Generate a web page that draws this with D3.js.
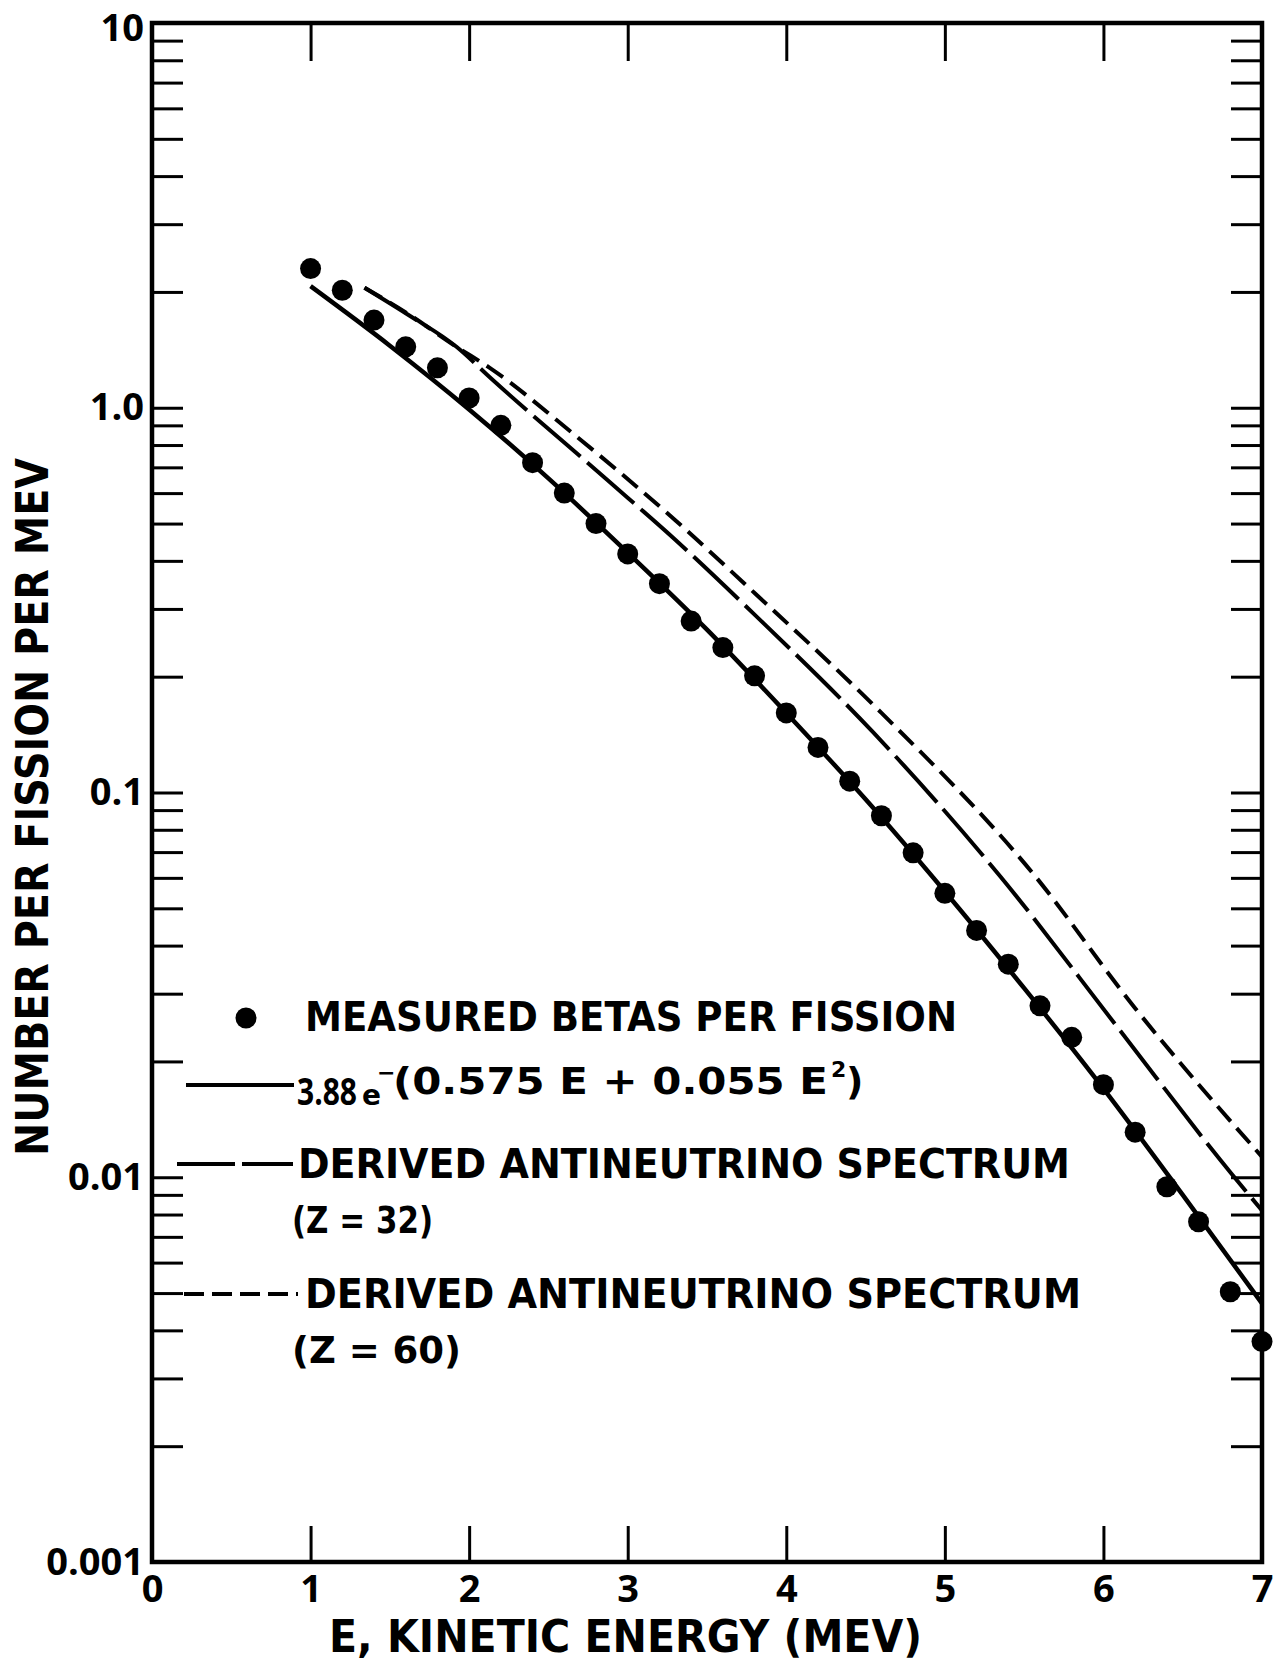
<!DOCTYPE html>
<html>
<head>
<meta charset="utf-8">
<script src="https://cdn.jsdelivr.net/npm/d3@7"></script>
<style>
  body { margin: 0; background: #fff; }
  svg text { font-family: "DejaVu Sans", sans-serif; font-weight: bold; fill: #000; }
  svg .tick text, svg .num { font-family: "Open Sans", "DejaVu Sans", sans-serif; font-weight: 700; }
</style>
</head>
<body>
<svg id="plot"></svg>
<script>
// Measured betas per fission (every 0.2 MeV)
const energy = [1.0, 1.2, 1.4, 1.6, 1.8, 2.0, 2.2, 2.4, 2.6, 2.8, 3.0, 3.2, 3.4, 3.6, 3.8,
                4.0, 4.2, 4.4, 4.6, 4.8, 5.0, 5.2, 5.4, 5.6, 5.8, 6.0, 6.2, 6.4, 6.6, 6.8, 7.0];
const betas = [2.30, 2.02, 1.69, 1.44, 1.27, 1.06, 0.90, 0.72, 0.60, 0.50, 0.417, 0.349, 0.279, 0.238, 0.201,
               0.161, 0.131, 0.107, 0.087, 0.0697, 0.0547, 0.0438, 0.0358, 0.0279, 0.0231, 0.0174, 0.0131,
               0.00945, 0.00766, 0.00504, 0.00374];

// Fitted curve 3.88 e^-(0.575E + 0.055E^2), as drawn
const fitEnergy = [1.0, 1.5, 2.0, 2.5, 3.0, 3.5, 4.0, 4.5, 5.0, 5.5, 6.0, 6.5, 7.0];
const fitValues = [2.07, 1.45, 0.99, 0.655, 0.42, 0.265, 0.161, 0.096, 0.0553, 0.031, 0.017, 0.0090, 0.0047];

// Derived antineutrino spectrum, Z = 32 (long dashes)
const z32Energy = [1.34, 1.6, 1.92, 2.13, 2.87, 3.3, 3.8, 4.55, 5.35, 6.1, 6.8, 7.0];
const z32Values = [2.05, 1.76, 1.44, 1.20, 0.65, 0.454, 0.29, 0.143, 0.0605, 0.0242, 0.0103, 0.0082];

// Derived antineutrino spectrum, Z = 60 (short dashes)
const z60Energy = [1.34, 1.6, 1.92, 2.13, 2.65, 3.3, 3.8, 4.6, 5.55, 6.2, 7.0];
const z60Values = [2.05, 1.77, 1.44, 1.27, 0.86, 0.51, 0.33, 0.161, 0.062, 0.0275, 0.0113];

// Axis ticks
const xTicks = [0, 1, 2, 3, 4, 5, 6, 7];
const yTickValues = [10, 1, 0.1, 0.01, 0.001];
const yTickLabels = ["10", "1.0", "0.1", "0.01", "0.001"];
const decades = [0.001, 0.01, 0.1, 1];

const legendLabels = ["MEASURED BETAS PER FISSION", "DERIVED ANTINEUTRINO SPECTRUM", "(Z = 32)",
                      "DERIVED ANTINEUTRINO SPECTRUM", "(Z = 60)"];

let width = 1110;
let height = 1539;
let margin = { top: 23, bottom: 100, left: 152, right: 21 };

let root = d3.select('#plot')
    .attr('width', 1283)
    .attr('height', 1662);

let svg = root.append('g')
    .attr('transform', `translate(${margin.left}, ${margin.top})`);

let xScale = d3.scaleLinear().domain([0, 7]).range([0, width]);
let yScale = d3.scaleLog().domain([0.001, 10]).range([height, 0]);

// every 1..9 x 10^n tick, plus the top one
let minorTicks = [];
decades.forEach(d => { for (let k = 1; k < 10; k++) minorTicks.push(+(k * d).toPrecision(3)); });
minorTicks.push(10);

function yLabel(d) {
    let i = yTickValues.findIndex(v => Math.abs(v - d) / v < 1e-9);
    return i < 0 ? '' : yTickLabels[i];
}

function styleAxis(g) {
    g.select('.domain').remove();
    g.selectAll('.tick line').attr('stroke', '#000').attr('stroke-width', 3);
    g.selectAll('.tick text').attr('fill', '#000').style('font-size', '38px');
}

// Left axis with labels
svg.append('g')
    .call(d3.axisLeft(yScale).tickValues(minorTicks).tickSize(-31).tickSizeOuter(0)
        .tickPadding(8).tickFormat(yLabel))
    .call(styleAxis)
    .selectAll('.tick text')
    .filter(d => d === 10)
    .attr('dy', '0.45em');

// Right axis, ticks only
svg.append('g')
    .attr('transform', `translate(${width}, 0)`)
    .call(d3.axisRight(yScale).tickValues(minorTicks).tickSize(-31).tickSizeOuter(0).tickFormat(''))
    .call(styleAxis);

// Bottom axis with labels
svg.append('g')
    .attr('transform', `translate(0, ${height})`)
    .call(d3.axisBottom(xScale).tickValues(xTicks).tickSize(-36).tickSizeOuter(0).tickPadding(13)
        .tickFormat(d3.format('d')))
    .call(styleAxis);

// Top axis, ticks only
svg.append('g')
    .call(d3.axisTop(xScale).tickValues(xTicks.slice(1, 7)).tickSize(-38).tickSizeOuter(0).tickFormat(''))
    .call(styleAxis);

// Frame
svg.append('rect')
    .attr('width', width)
    .attr('height', height)
    .attr('fill', 'none')
    .attr('stroke', '#000')
    .attr('stroke-width', 4.5);

// Curves
let line = d3.line()
    .x(d => xScale(d[0]))
    .y(d => yScale(d[1]))
    .curve(d3.curveMonotoneX);

svg.append('path')
    .datum(d3.zip(z60Energy, z60Values))
    .attr('d', line)
    .attr('fill', 'none')
    .attr('stroke', '#000')
    .attr('stroke-width', 4)
    .attr('stroke-dasharray', '20,9');

svg.append('path')
    .datum(d3.zip(z32Energy, z32Values))
    .attr('d', line)
    .attr('fill', 'none')
    .attr('stroke', '#000')
    .attr('stroke-width', 4)
    .attr('stroke-dasharray', '62,9');

svg.append('path')
    .datum(d3.zip(fitEnergy, fitValues))
    .attr('d', line)
    .attr('fill', 'none')
    .attr('stroke', '#000')
    .attr('stroke-width', 4.5);

// Measured points
svg.selectAll('.dot')
    .data(d3.zip(energy, betas))
    .enter()
    .append('circle')
    .attr('class', 'dot')
    .attr('cx', d => xScale(d[0]))
    .attr('cy', d => yScale(d[1]))
    .attr('r', 10.5)
    .attr('fill', '#000');

// Axis titles
root.append('text')
    .attr('x', 329)
    .attr('y', 1652)
    .attr('textLength', 593)
    .attr('lengthAdjust', 'spacingAndGlyphs')
    .style('font-size', '44px')
    .text('E, KINETIC ENERGY (MEV)');

root.append('text')
    .attr('transform', 'translate(48, 1156) rotate(-90)')
    .attr('textLength', 698)
    .attr('lengthAdjust', 'spacingAndGlyphs')
    .style('font-size', '44px')
    .text('NUMBER PER FISSION PER MEV');

// Legend
let legend = root.append('g');

legend.append('circle').attr('cx', 246).attr('cy', 1018).attr('r', 10.5).attr('fill', '#000');
legend.append('text')
    .attr('x', 305).attr('y', 1031)
    .attr('textLength', 652).attr('lengthAdjust', 'spacingAndGlyphs')
    .style('font-size', '41px')
    .text(legendLabels[0]);

legend.append('line').attr('x1', 186).attr('x2', 294).attr('y1', 1085).attr('y2', 1085)
    .attr('stroke', '#000').attr('stroke-width', 4);
legend.append('text')
    .attr('class', 'num')
    .attr('x', 297).attr('y', 1105)
    .attr('textLength', 60).attr('lengthAdjust', 'spacingAndGlyphs')
    .style('font-size', '37px')
    .text('3.88');
legend.append('text')
    .attr('x', 362).attr('y', 1105)
    .style('font-size', '28px')
    .text('e');
legend.append('text')
    .attr('x', 377).attr('y', 1080)
    .style('font-size', '22px')
    .text('\u2212');
legend.append('text')
    .attr('x', 393).attr('y', 1094)
    .attr('textLength', 435).attr('lengthAdjust', 'spacingAndGlyphs')
    .style('font-size', '38px')
    .text('(0.575 E + 0.055 E');
legend.append('text')
    .attr('x', 831).attr('y', 1077)
    .style('font-size', '22px')
    .text('2');
legend.append('text')
    .attr('x', 846).attr('y', 1094)
    .style('font-size', '38px')
    .text(')');

legend.append('line').attr('x1', 177).attr('x2', 293).attr('y1', 1164).attr('y2', 1164)
    .attr('stroke', '#000').attr('stroke-width', 4).attr('stroke-dasharray', '58,7');
legend.append('text')
    .attr('x', 298).attr('y', 1178)
    .attr('textLength', 772).attr('lengthAdjust', 'spacingAndGlyphs')
    .style('font-size', '41px')
    .text(legendLabels[1]);
legend.append('text')
    .attr('x', 292).attr('y', 1233)
    .attr('textLength', 141).attr('lengthAdjust', 'spacingAndGlyphs')
    .style('font-size', '38px')
    .text(legendLabels[2]);

legend.append('line').attr('x1', 184).attr('x2', 298).attr('y1', 1294).attr('y2', 1294)
    .attr('stroke', '#000').attr('stroke-width', 4).attr('stroke-dasharray', '20,8');
legend.append('text')
    .attr('x', 305).attr('y', 1308)
    .attr('textLength', 776).attr('lengthAdjust', 'spacingAndGlyphs')
    .style('font-size', '41px')
    .text(legendLabels[3]);
legend.append('text')
    .attr('x', 292).attr('y', 1363)
    .attr('textLength', 169).attr('lengthAdjust', 'spacingAndGlyphs')
    .style('font-size', '38px')
    .text(legendLabels[4]);
</script>
</body>
</html>
